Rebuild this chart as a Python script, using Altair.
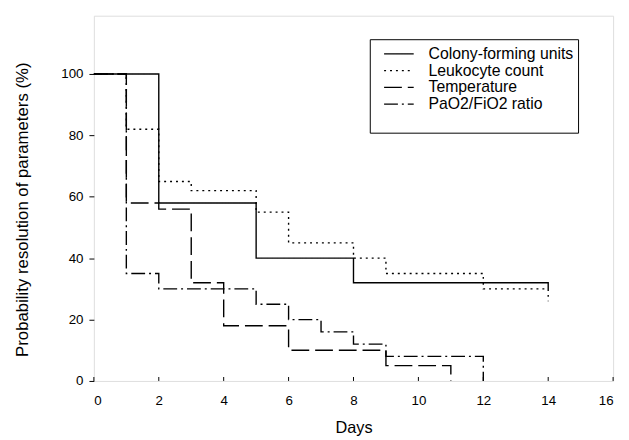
import altair as alt
import pandas as pd

# ---- data (Kaplan-Meier style step curves) ----
series_names = ["Colony-forming units", "Leukocyte count", "Temperature", "PaO2/FiO2 ratio"]

cfu_days = [0, 2, 5, 8, 14]
cfu_vals = [100, 58, 40, 32, 30]

leuko_days = [0, 1, 2, 3, 5, 6, 8, 9, 12, 14]
leuko_vals = [100, 82, 65, 62, 55, 45, 40, 35, 30, 26]

temp_days = [0, 1, 2, 3, 4, 6, 9, 11]
temp_vals = [100, 58, 56, 32, 18, 10, 5, 0]

pao2_days = [0, 1, 2, 5, 6, 7, 8, 9, 12]
pao2_vals = [100, 35, 30, 25, 20, 16, 12, 8, 0]

x_ticks = [0, 2, 4, 6, 8, 10, 12, 14, 16]
y_ticks = [0, 20, 40, 60, 80, 100]

rows = []
for name, days, vals in zip(series_names,
                            [cfu_days, leuko_days, temp_days, pao2_days],
                            [cfu_vals, leuko_vals, temp_vals, pao2_vals]):
    for i, (d, v) in enumerate(zip(days, vals)):
        rows.append({"series": name, "day": d, "value": v, "order": i})
df = pd.DataFrame(rows)
ticks_df = pd.DataFrame({"day": x_ticks})

W, H = 526, 370
FONT = "Liberation Sans"

dash_range = [[1, 0], [2, 4], [18, 6], [14, 4, 2, 4]]

lines = alt.Chart(df).mark_line(
    interpolate="step-after", color="black", strokeWidth=1.4
).encode(
    x=alt.X("day:Q", scale=alt.Scale(domain=[0, 16], nice=False),
            axis=alt.Axis(values=x_ticks, title="Days", ticks=False, tickSize=0,
                          domain=False, grid=False, labelPadding=13,
                          labelFontSize=13.5, titleFontSize=16.5, titlePadding=13,
                          labelColor="black", titleColor="black",
                          labelFont=FONT, titleFont=FONT, titleFontWeight="normal")),
    y=alt.Y("value:Q", scale=alt.Scale(domain=[0, 119], nice=False),
            axis=alt.Axis(values=y_ticks, title="Probability resolution of parameters (%)",
                          tickSize=5, tickColor="black", domain=False, grid=False,
                          labelPadding=6, labelFontSize=13.5, titleFontSize=17,
                          titlePadding=30, titleY=196, labelColor="black", titleColor="black",
                          labelFont=FONT, titleFont=FONT, titleFontWeight="normal")),
    strokeDash=alt.StrokeDash(
        "series:N",
        scale=alt.Scale(domain=series_names, range=dash_range),
        legend=alt.Legend(
            title=None, orient="none", legendX=293, legendY=30.5,
            symbolType="stroke", symbolSize=900, clipHeight=16.3,
            symbolStrokeWidth=1.3, symbolStrokeColor="black",
            labelFontSize=16, labelFont=FONT, labelColor="black",
            labelOffset=14, rowPadding=0, padding=0,
        ),
    ),
    order="order:Q",
)

legend_box = alt.Chart(ticks_df.head(1)).mark_rect(
    fill="white", stroke="black", strokeWidth=1
).encode(
    x=alt.value(280), x2=alt.value(491), y=alt.value(24.3), y2=alt.value(119)
)

inner_ticks = alt.Chart(ticks_df).mark_rule(color="black", strokeWidth=1).encode(
    x="day:Q", y=alt.value(H), y2=alt.value(H - 4)
)

chart = alt.layer(legend_box, lines, inner_ticks).properties(
    width=W, height=H,
    autosize=alt.AutoSizeParams(type="none"),
    padding={"left": 87, "top": 5, "right": 8, "bottom": 57},
).configure_view(
    stroke="black", strokeWidth=1
).configure(background="white")

chart.save("out.html", embed_options={"renderer": "svg", "actions": False})
